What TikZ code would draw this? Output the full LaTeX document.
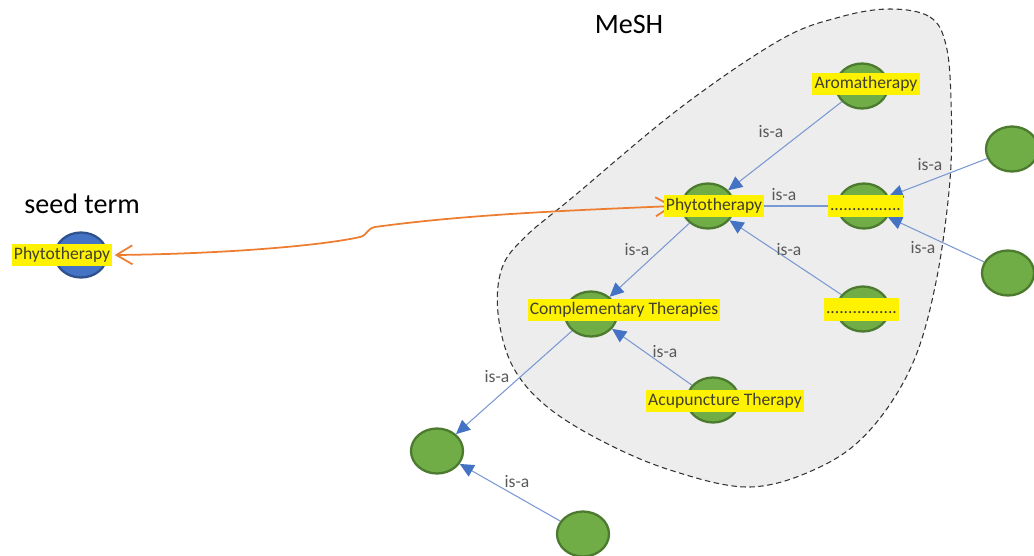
\documentclass[tikz,border=0pt]{standalone}
\usepackage{fontspec}
\setmainfont{Carlito}
\usetikzlibrary{
  arrows.meta,
  shapes.geometric,
  backgrounds
}
\definecolor{ConceptGreen}{HTML}{70AD47}
\definecolor{ConceptEdge}{HTML}{4C7A2E}
\definecolor{SeedBlue}{HTML}{4472C4}
\definecolor{SeedEdge}{HTML}{2F528F}
\definecolor{MarkYellow}{HTML}{FFF200}
\definecolor{MeshGray}{HTML}{EDEDED}
\definecolor{IsaLine}{HTML}{7A98D2}
\definecolor{IsaTip}{HTML}{4472C4}
\definecolor{MapOrange}{HTML}{ED7D31}
\definecolor{TermText}{HTML}{404030}
\definecolor{IsaText}{HTML}{595959}
\tikzset{
  concept/.style={
    ellipse,
    draw=ConceptEdge,
    fill=ConceptGreen,
    line width=1.3pt,
    minimum width=10.4mm,
    minimum height=9mm,
    inner sep=0pt
  },
  seedconcept/.style={concept,draw=SeedEdge,fill=SeedBlue},
  termlabel/.style={
    fill=MarkYellow,
    text=TermText,
    font=\fontsize{10}{12}\selectfont,
    inner xsep=0.45mm,
    inner ysep=1.4pt,
    text height=7.5pt,
    text depth=2.5pt
  },
  isalabel/.style={text=IsaText,font=\fontsize{10}{12}\selectfont,inner sep=1pt},
  heading/.style={font=\fontsize{16}{19}\selectfont,anchor=base},
  isaarrow/.style={-{Triangle[length=2.8mm,width=2.6mm,color=IsaTip]},draw=IsaLine,line width=0.6pt},
  maparrow/.style={{Straight Barb[length=3.2mm,width=3.8mm]}-{Straight Barb[length=3.2mm,width=3.8mm]},draw=MapOrange,line width=1pt},
  meshregion/.style={draw=black!80,fill=MeshGray,dash pattern=on 1.1mm off 0.7mm,line width=0.6pt}
}

\begin{document}
\begin{tikzpicture}[x=0.2mm,y=-0.2mm]
  \useasboundingbox (0,0) rectangle (1034,556);

  % Headings
  \node[heading] (seedhead) at (82,213) {seed term};
  \node[heading] (meshhead) at (629,33) {MeSH};

  % Concepts: the seed, the MeSH terms and the ones outside the region
  \node[seedconcept] (seed) at (81,255) {};
  \node[concept] (aroma) at (862,86) {};
  \node[concept] (phyto) at (708,206) {};
  \node[concept] (dotsa) at (864,206) {};
  \node[concept] (dotsb) at (863,309) {};
  \node[concept] (comp) at (591,314) {};
  \node[concept] (acu) at (713,400) {};
  \node[concept] (broader) at (437,451) {};
  \node[concept] (narrower) at (583,534) {};
  \node[concept] (outera) at (1012,149) {};
  \node[concept] (outerb) at (1008,273) {};

  % Highlighted term labels
  \node[termlabel] (seedlbl) at ([xshift=-3.8mm]seed) {Phytotherapy};
  \node[termlabel] (aromalbl) at ([xshift=0.8mm,yshift=0.4mm]aroma) {Aromatherapy};
  \node[termlabel] (phytolbl) at ([xshift=1.2mm]phyto) {Phytotherapy};
  \node[termlabel] (dotsalbl) at ([xshift=0.3mm]dotsa) {................};
  \node[termlabel] (dotsblbl) at ([xshift=-0.3mm,yshift=-0.1mm]dotsb) {................};
  \node[termlabel] (complbl) at ([xshift=6.6mm,yshift=0.8mm]comp) {Complementary Therapies};
  \node[termlabel] (aculbl) at ([xshift=2.4mm,yshift=-0.2mm]acu) {Acupuncture Therapy};

  % is-a labels
  \foreach \x/\y [count=\i] in {771/132, 784/195, 637/250, 789/250, 930/165, 923/248, 665/352, 497/377, 517/482}
    \node[isalabel] (isa\i) at (\x,\y) {is-a};

  \begin{scope}[on background layer]
    % MeSH region
    \draw[meshregion] plot[smooth cycle, tension=0.6] coordinates {
      (890,9) (930,17) (946,45) (951,100) (950,180) (936,282) (912,365)
      (870,430) (820,467) (750,487) (670,470) (600,440) (545,405) (512,365)
      (498,313) (502,268) (525,237) (573,197) (680,108) (780,40) (840,17)};

    % is-a links, child to parent
    \draw[isaarrow] (aroma) -- (phyto);
    \draw[isaarrow] (dotsa) -- (phyto);
    \draw[isaarrow] (dotsb) -- (phyto);
    \draw[isaarrow] (phyto) -- (comp);
    \draw[isaarrow] (acu) -- (comp);
    \draw[isaarrow] (comp) -- (broader);
    \draw[isaarrow] (narrower) -- (broader);
    \draw[isaarrow] (outera) -- (dotsa);
    \draw[isaarrow] (outerb) -- (dotsa);

    % mapping of the seed term onto MeSH
    \draw[maparrow] ([xshift=0.4mm]seedlbl.east)
      .. controls (220,254) and (320,246) .. (360,237)
      .. controls (368,235) and (366,229) .. (375,227)
      .. controls (470,214) and (580,210) .. ([xshift=2mm]phytolbl.west);
  \end{scope}
\end{tikzpicture}
\end{document}
